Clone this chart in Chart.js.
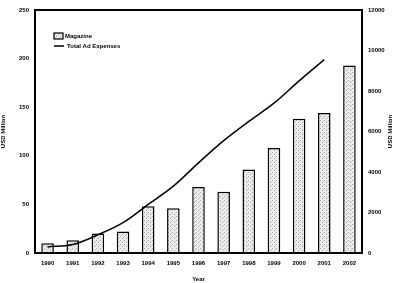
<!DOCTYPE html>
<html>
<head>
<meta charset="utf-8">
<script src="https://cdn.jsdelivr.net/npm/chart.js@4"></script>
<style>
  html, body { margin: 0; padding: 0; background: #fff; }
  #chart { display: block; }
</style>
</head>
<body>
<canvas id="chart" width="395" height="283"></canvas>
<script>
'use strict';

// Data
const years = ['1990', '1991', '1992', '1993', '1994', '1995', '1996',
    '1997', '1998', '1999', '2000', '2001', '2002'];
const magazine = [10, 13, 20, 22, 48, 46, 68, 63, 86, 108, 138, 144, 193];
const totalAdExpenses = [300, 420, 900, 1500, 2400, 3300, 4450,
    5550, 6500, 7400, 8500, 9550, null];
const leftTicks = [0, 50, 100, 150, 200, 250];
const rightTicks = [0, 2000, 4000, 6000, 8000, 10000, 12000];

const FONT = '"Liberation Sans Narrow", "Liberation Sans", Arial, sans-serif';

// stippled grey fill for the bars
function stipple() {
    const c = document.createElement('canvas');
    c.width = 4; c.height = 4;
    const g = c.getContext('2d');
    g.fillStyle = '#ececec';
    g.fillRect(0, 0, 4, 4);
    g.fillStyle = '#a8a8a8';
    g.fillRect(0, 0, 1, 1);
    g.fillRect(2, 2, 1, 1);
    g.fillStyle = '#cfcfcf';
    g.fillRect(3, 1, 1, 1);
    return g.createPattern(c, 'repeat');
}

// frame around the plot + custom legend + right title reading upward
const decorPlugin = {
    id: 'decor',
    afterDraw(chart) {
        const { ctx, chartArea: a } = chart;
        ctx.save();
        ctx.strokeStyle = '#000';
        ctx.lineWidth = 2;
        ctx.strokeRect(a.left, a.top, a.right - a.left, a.bottom - a.top);

        // legend
        ctx.font = 'bold 6px ' + FONT;
        ctx.fillStyle = '#000';
        ctx.textBaseline = 'middle';
        const lx = a.left + 19, ly = a.top + 26;
        ctx.fillStyle = stipple();
        ctx.fillRect(lx, ly - 3, 9, 6);
        ctx.lineWidth = 1.2;
        ctx.strokeRect(lx, ly - 3, 9, 6);
        ctx.fillStyle = '#000';
        ctx.fillText(chart.data.datasets[0].label, lx + 11, ly);
        ctx.beginPath();
        ctx.lineWidth = 1.5;
        ctx.moveTo(lx, ly + 10);
        ctx.lineTo(lx + 10, ly + 10);
        ctx.stroke();
        ctx.fillText(chart.data.datasets[1].label, lx + 13, ly + 10);

        // right axis title
        ctx.translate(390, (a.top + a.bottom) / 2);
        ctx.rotate(-Math.PI / 2);
        ctx.textAlign = 'center';
        ctx.fillText('USD Million', 0, 0);
        ctx.restore();
    }
};

const ctx = document.getElementById('chart');
new Chart(ctx, {
    type: 'bar',
    data: {
        labels: years,
        datasets: [{
            label: 'Magazine',
            data: magazine,
            yAxisID: 'y',
            backgroundColor: stipple(),
            borderColor: '#000',
            borderWidth: 1.5,
            borderSkipped: 'bottom',
            barPercentage: 0.5,
            categoryPercentage: 1,
            order: 2
        }, {
            type: 'line',
            label: 'Total Ad Expenses',
            data: totalAdExpenses,
            yAxisID: 'y1',
            borderColor: '#000',
            borderWidth: 1.5,
            pointRadius: 0,
            tension: 0.35,
            fill: false,
            order: 1
        }]
    },
    options: {
        responsive: false,
        animation: false,
        layout: { padding: { top: 10, left: 0, right: 0, bottom: 0 } },
        plugins: { legend: { display: false }, tooltip: { enabled: false } },
        scales: {
            x: {
                grid: { display: false, drawTicks: false },
                border: { display: false },
                ticks: {
                    font: { family: FONT, size: 6, weight: 'bold' },
                    color: '#000',
                    padding: 7,
                    maxRotation: 0,
                    autoSkip: false
                },
                title: {
                    display: true,
                    text: 'Year',
                    font: { family: FONT, size: 6, weight: 'bold' },
                    color: '#000',
                    padding: { top: 3, bottom: 0 }
                },
                afterFit(s) { s.height = 30; }
            },
            y: {
                position: 'left',
                min: 0,
                max: 250,
                afterBuildTicks(s) { s.ticks = leftTicks.map(v => ({ value: v })); },
                grid: { display: false, drawTicks: true, tickLength: 3, tickColor: '#000' },
                border: { display: false },
                ticks: {
                    font: { family: FONT, size: 6, weight: 'bold' },
                    color: '#000',
                    padding: 3
                },
                title: {
                    display: true,
                    text: 'USD Million',
                    font: { family: FONT, size: 6, weight: 'bold' },
                    color: '#000',
                    padding: 0
                },
                afterFit(s) { s.width = 35; }
            },
            y1: {
                position: 'right',
                min: 0,
                max: 12000,
                afterBuildTicks(s) { s.ticks = rightTicks.map(v => ({ value: v })); },
                grid: { display: false, drawTicks: true, tickLength: 3, tickColor: '#000' },
                border: { display: false },
                ticks: {
                    font: { family: FONT, size: 6, weight: 'bold' },
                    color: '#000',
                    padding: 3,
                    callback: v => String(v)
                },
                afterFit(s) { s.width = 33; }
            }
        }
    },
    plugins: [decorPlugin]
});
</script>
</body>
</html>
